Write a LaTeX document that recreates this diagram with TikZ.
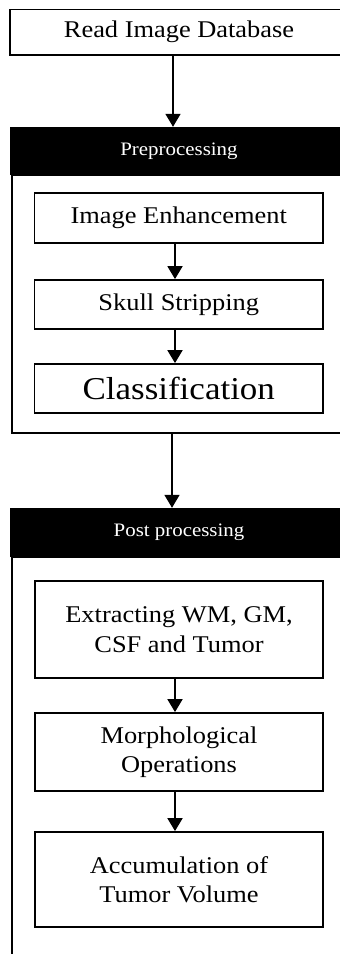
\documentclass[tikz,border=0pt]{standalone}
\usepackage{fontspec}
\setmainfont[FakeStretch=1.1]{Liberation Serif}
\usetikzlibrary{arrows.meta}
\begin{document}
\begin{tikzpicture}[x=1pt,y=-1pt,
  box/.style={draw, line width=1.8pt, inner sep=0pt, align=center, font=\fontsize{24}{29.5}\selectfont},
  hdr/.style={fill=black, text=white, inner sep=0pt, font=\fontsize{19}{23}\selectfont},
  frame/.style={draw, line width=1.8pt, inner sep=0pt},
  arr/.style={line width=1.8pt, -{Triangle[width=15pt,length=13pt]}}]
\useasboundingbox (0,0) rectangle (340,954);
\clip (0,0) rectangle (340,954);
% top box
\node[box, minimum width=338pt, minimum height=45.5pt] (read) at (179,32.2) {Read Image Database};
% preprocessing group
\node[frame, minimum width=338pt, minimum height=258pt] (pre) at (181,304) {};
\node[hdr, minimum width=338pt, minimum height=48pt] (preh) at (179,151) {Preprocessing};
\node[box, minimum width=288.5pt, minimum height=50pt] (ie) at (178.75,218) {Image Enhancement};
\node[box, minimum width=288.5pt, minimum height=49pt] (ss) at (178.75,304.5) {Skull Stripping};
\node[box, minimum width=288.5pt, minimum height=49pt, font=\fontsize{31.8}{36}\selectfont] (cl) at (178.75,388.5) {Classification};
% post processing group
\node[frame, minimum width=338pt, minimum height=413pt] (post) at (180.8,763.5) {};
\node[hdr, minimum width=338pt, minimum height=49pt] (posth) at (179,532.5) {Post processing};
\node[box, minimum width=288pt, minimum height=97pt] (ex) at (179,629.5) {Extracting WM, GM,\\CSF and Tumor};
\node[box, minimum width=288pt, minimum height=78pt] (mo) at (179,752) {Morphological\\Operations};
\node[box, minimum width=288pt, minimum height=95pt] (ac) at (179,879.5) {Accumulation of\\Tumor Volume};
% arrows
\draw[arr] ([xshift=-6pt]read.south) -- ([xshift=-6pt]read.south |- preh.north);
\draw[arr] ([xshift=-3.75pt]ie.south) -- ([xshift=-3.75pt]ss.north);
\draw[arr] ([xshift=-3.75pt]ss.south) -- ([xshift=-3.75pt]cl.north);
\draw[arr] ([xshift=-9pt]pre.south) -- ([xshift=-9pt]pre.south |- posth.north);
\draw[arr] ([xshift=-4pt]ex.south) -- ([xshift=-4pt]mo.north);
\draw[arr] ([xshift=-4pt]mo.south) -- ([xshift=-4pt]ac.north);
\end{tikzpicture}
\end{document}
